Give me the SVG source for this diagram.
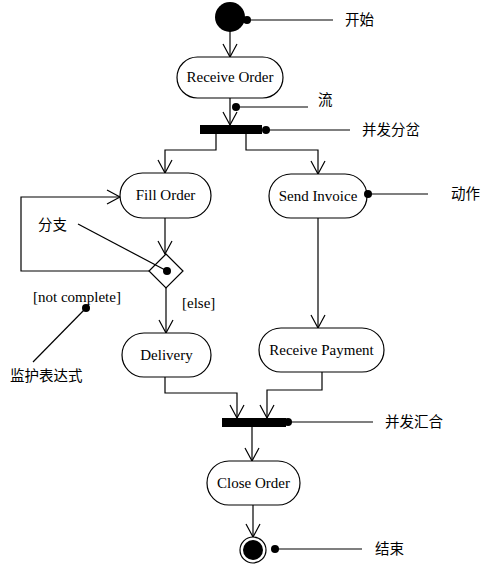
<svg xmlns="http://www.w3.org/2000/svg" width="496" height="574" viewBox="0 0 496 574">
<style>
.bg{fill:#fff}
.node{fill:#fff;stroke:#000;stroke-width:1.2}
.bar{fill:#000}
.edge{fill:none;stroke:#000;stroke-width:1.2}
.note{fill:none;stroke:#000;stroke-width:1.2}
.dot{fill:#000}
.t{font-family:"Liberation Serif","Noto Sans CJK SC",serif;font-size:15px;fill:#000}
.c{text-anchor:middle}
.cn{font-family:"Noto Sans CJK SC","Liberation Serif",sans-serif;font-size:14.5px;fill:#000}
</style>
<defs>
<marker id="arr" markerUnits="userSpaceOnUse" markerWidth="16" markerHeight="16" viewBox="0 0 16 16" refX="14" refY="8" orient="auto">
<path d="M1,1 L14,8 L1,15" fill="none" stroke="#000" stroke-width="1.2"/>
</marker>
</defs>
<rect class="bg" width="496" height="574"/>

<g id="connectors">
<line class="edge" x1="230" y1="31" x2="230" y2="57" marker-end="url(#arr)"/>
<line class="edge" x1="230" y1="98" x2="230" y2="125" marker-end="url(#arr)"/>
<polyline class="edge" points="216,134 216,150 165,150 165,173" marker-end="url(#arr)"/>
<polyline class="edge" points="246,134 246,150 318,150 318,174" marker-end="url(#arr)"/>
<line class="edge" x1="165" y1="218" x2="165" y2="254" marker-end="url(#arr)"/>
<polyline class="edge" points="150,271 21,271 21,197 120,197" marker-end="url(#arr)"/>
<line class="edge" x1="166" y1="288" x2="166" y2="333" marker-end="url(#arr)"/>
<line class="edge" x1="318" y1="218" x2="318" y2="328" marker-end="url(#arr)"/>
<polyline class="edge" points="165,377 165,393 237,393 237,418" marker-end="url(#arr)"/>
<polyline class="edge" points="322,372 322,390 267,390 267,418" marker-end="url(#arr)"/>
<line class="edge" x1="252" y1="427" x2="252" y2="461" marker-end="url(#arr)"/>
<line class="edge" x1="253" y1="505" x2="253" y2="537" marker-end="url(#arr)"/>
</g>

<g id="start">
<circle cx="230" cy="17" r="15" class="bar"/>
</g>
<g id="receive-order">
<rect class="node" x="177" y="57" width="106" height="41" rx="20.5"/>
<text class="t c" x="230" y="82">Receive Order</text>
</g>
<g id="fork">
<rect class="bar" x="200" y="125" width="62" height="9"/>
</g>
<g id="fill-order">
<rect class="node" x="120" y="173" width="91" height="45" rx="22.5"/>
<text class="t c" x="165.5" y="200">Fill Order</text>
</g>
<g id="send-invoice">
<rect class="node" x="269" y="174" width="98" height="44" rx="22"/>
<text class="t c" x="318" y="201">Send Invoice</text>
</g>
<g id="branch">
<polygon class="node" points="166,254 183,271 166,288 149,271"/>
</g>
<g id="delivery">
<rect class="node" x="122" y="333" width="89" height="44" rx="22"/>
<text class="t c" x="166.5" y="360">Delivery</text>
</g>
<g id="receive-payment">
<rect class="node" x="259" y="328" width="125" height="44" rx="22"/>
<text class="t c" x="321.5" y="355">Receive Payment</text>
</g>
<g id="join">
<rect class="bar" x="222" y="418" width="64" height="9"/>
</g>
<g id="close-order">
<rect class="node" x="207" y="461" width="93" height="44" rx="22"/>
<text class="t c" x="253.5" y="488">Close Order</text>
</g>
<g id="end">
<circle cx="253" cy="550" r="13" fill="#fff" stroke="#000" stroke-width="1.2"/>
<circle cx="253" cy="550" r="10" class="bar"/>
</g>

<g id="annotations">
<circle class="dot" cx="247" cy="20" r="4"/>
<line class="note" x1="247" y1="20" x2="333" y2="20"/>
<text class="cn" x="345" y="25">开始</text>

<circle class="dot" cx="236" cy="107" r="4"/>
<line class="note" x1="236" y1="107" x2="308" y2="107"/>
<text class="cn" x="318" y="105">流</text>

<circle class="dot" cx="266" cy="130" r="4"/>
<line class="note" x1="266" y1="130" x2="350" y2="130"/>
<text class="cn" x="362" y="135">并发分岔</text>

<circle class="dot" cx="368" cy="194" r="4"/>
<line class="note" x1="368" y1="194" x2="428" y2="194"/>
<text class="cn" x="451" y="199">动作</text>

<circle class="dot" cx="167" cy="271" r="4"/>
<line class="note" x1="167" y1="271" x2="78" y2="224"/>
<text class="cn" x="38" y="230">分支</text>

<text class="t" x="182" y="308">[else]</text>

<text class="t" x="33" y="302">[not complete]</text>
<circle class="dot" cx="86" cy="308" r="4"/>
<line class="note" x1="86" y1="308" x2="33" y2="362"/>
<text class="cn" x="10" y="381">监护表达式</text>

<circle class="dot" cx="288" cy="422" r="4"/>
<line class="note" x1="288" y1="422" x2="373" y2="422"/>
<text class="cn" x="385" y="427">并发汇合</text>

<circle class="dot" cx="275" cy="549" r="4"/>
<line class="note" x1="275" y1="549" x2="362" y2="549"/>
<text class="cn" x="375" y="554">结束</text>
</g>
</svg>
